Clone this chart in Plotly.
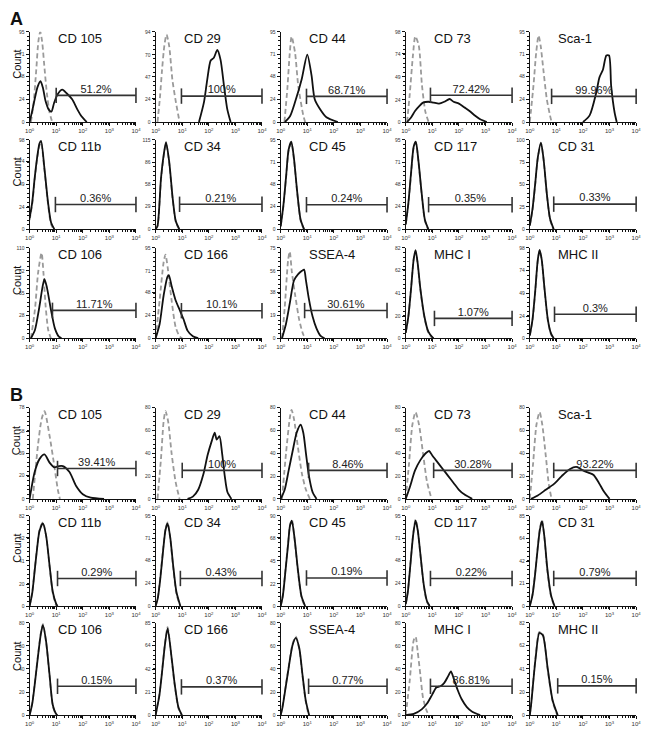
import numpy as np
import plotly.graph_objects as go

# ---------------- data (x values in decades of fluorescence, y in counts) ----------------
markers = ["CD 105", "CD 29", "CD 44", "CD 73", "Sca-1",
           "CD 11b", "CD 34", "CD 45", "CD 117", "CD 31",
           "CD 106", "CD 166", "SSEA-4", "MHC I", "MHC II"]

pct_A = ["51.2%", "100%", "68.71%", "72.42%", "99.96%",
         "0.36%", "0.21%", "0.24%", "0.35%", "0.33%",
         "11.71%", "10.1%", "30.61%", "1.07%", "0.3%"]
pct_B = ["39.41%", "100%", "8.46%", "30.28%", "93.22%",
         "0.29%", "0.43%", "0.19%", "0.22%", "0.79%",
         "0.15%", "0.37%", "0.77%", "86.81%", "0.15%"]

ymax_A = [95, 94, 95, 98, 95, 98, 115, 95, 95, 100, 110, 95, 75, 82, 98]
ymax_B = [78, 80, 80, 80, 80, 82, 95, 90, 95, 85, 80, 85, 80, 80, 82]

gate_A = [1.0, 0.97, 0.97, 0.93, 0.82, 0.97, 0.9, 0.97, 0.86, 0.9, 0.86, 0.97, 0.9, 1.08, 0.93]
gate_B = [1.05, 1.0, 1.05, 1.05, 0.9, 1.05, 0.93, 0.97, 0.93, 0.9, 1.05, 0.97, 1.05, 0.93, 1.05]
level_A = [28, 27, 27, 29, 27, 27, 32, 26, 26, 28, 34, 29, 23, 18, 26]
level_B = [26, 25, 25, 25, 25, 25, 29, 28, 29, 26, 25, 26, 25, 25, 26]

# isotype control (grey dashed) - panel A
iso_x_A = [
    [0.05, 0.15, 0.25, 0.33, 0.4, 0.47, 0.55, 0.65, 0.75, 0.85],
    [0.07, 0.16, 0.24, 0.33, 0.41, 0.51, 0.63, 0.76, 0.9],
    [0.14, 0.25, 0.34, 0.41, 0.54, 0.66, 0.85, 0.92],
    [0.05, 0.15, 0.27, 0.36, 0.49, 0.61, 0.74, 0.86],
    [0.0, 0.14, 0.24, 0.33, 0.41, 0.51, 0.64, 0.76, 0.82],
    [0.0, 0.1, 0.19, 0.28, 0.37, 0.43, 0.56, 0.69, 0.8, 0.9],
    [0.0, 0.07, 0.2, 0.3, 0.39, 0.51, 0.64, 0.76, 0.88],
    [0.0, 0.1, 0.2, 0.3, 0.4, 0.5, 0.62, 0.75, 0.87],
    [0.0, 0.1, 0.2, 0.3, 0.38, 0.48, 0.6, 0.72, 0.84],
    [0.0, 0.1, 0.2, 0.3, 0.42, 0.52, 0.64, 0.76, 0.88],
    [0.05, 0.2, 0.32, 0.45, 0.52, 0.6, 0.7, 0.8],
    [0.0, 0.15, 0.3, 0.37, 0.45, 0.6, 0.75, 0.9, 1.0],
    [0.05, 0.15, 0.28, 0.34, 0.42, 0.55, 0.7, 0.85, 0.95],
    [0.0, 0.1, 0.2, 0.3, 0.37, 0.45, 0.55, 0.7, 0.85, 1.0],
    [0.0, 0.1, 0.2, 0.3, 0.37, 0.45, 0.55, 0.68, 0.8, 0.9],
]
iso_y_A = [
    [0, 20, 55, 85, 95, 85, 60, 30, 10, 0],
    [0, 25, 54, 80, 91, 79, 44, 21, 0],
    [0, 35, 72, 90, 73, 38, 7, 0],
    [0, 30, 72, 93, 83, 40, 11, 0],
    [0, 39, 73, 91, 80, 55, 24, 7, 0],
    [10, 28, 54, 76, 92, 95, 64, 28, 6, 0],
    [0, 4, 63, 93, 110, 85, 38, 9, 0],
    [3, 24, 54, 84, 92, 74, 39, 9, 0],
    [5, 27, 58, 87, 92, 71, 37, 9, 0],
    [4, 21, 49, 79, 96, 77, 39, 11, 0],
    [0, 35, 80, 104, 80, 40, 10, 0],
    [0, 40, 80, 88, 75, 40, 12, 2, 0],
    [0, 25, 65, 72, 55, 35, 15, 3, 0],
    [5, 20, 45, 72, 79, 67, 44, 19, 5, 0],
    [3, 19, 49, 84, 95, 84, 54, 19, 4, 0],
]
# sample (black solid) - panel A
smp_x_A = [
    [0.0, 0.1, 0.19, 0.3, 0.41, 0.5, 0.6, 0.72, 0.82, 0.92, 1.05, 1.23, 1.4, 1.6, 1.8, 1.95, 2.15],
    [1.63, 1.82, 1.94, 2.07, 2.19, 2.32, 2.44, 2.57, 2.69, 2.82],
    [0.16, 0.35, 0.54, 0.79, 1.0, 1.16, 1.28, 1.47, 1.72, 2.15],
    [0.05, 0.2, 0.35, 0.5, 0.65, 0.85, 1.05, 1.25, 1.45, 1.65, 1.8, 2.0, 2.2, 2.4, 2.6, 2.8, 3.05],
    [2.0, 2.25, 2.5, 2.62, 2.75, 2.88, 2.98, 3.06, 3.19, 3.27],
    [0.0, 0.1, 0.19, 0.28, 0.37, 0.43, 0.56, 0.69, 0.81, 0.93],
    [0.0, 0.07, 0.2, 0.3, 0.39, 0.51, 0.64, 0.76, 0.89],
    [0.0, 0.1, 0.2, 0.3, 0.4, 0.5, 0.62, 0.75, 0.88],
    [0.0, 0.1, 0.2, 0.3, 0.38, 0.48, 0.6, 0.72, 0.85],
    [0.0, 0.1, 0.2, 0.3, 0.42, 0.52, 0.64, 0.76, 0.9],
    [0.05, 0.2, 0.35, 0.5, 0.56, 0.65, 0.8, 0.95, 1.1, 1.2],
    [0.0, 0.15, 0.3, 0.45, 0.5, 0.6, 0.75, 0.9, 1.05, 1.2, 1.4, 1.6],
    [0.05, 0.2, 0.35, 0.5, 0.65, 0.8, 0.88, 0.95, 1.05, 1.2, 1.35, 1.5, 1.65],
    [0.0, 0.1, 0.2, 0.3, 0.37, 0.45, 0.55, 0.7, 0.85, 1.0, 1.05],
    [0.0, 0.1, 0.2, 0.3, 0.37, 0.45, 0.55, 0.68, 0.8, 0.9],
]
smp_y_A = [
    [0, 12, 24, 37, 43, 36, 22, 13, 11, 20, 29, 34, 30, 24, 13, 6, 0],
    [0, 21, 44, 64, 67, 75, 65, 38, 14, 0],
    [0, 6, 21, 45, 71, 49, 24, 14, 5, 0],
    [0, 5, 12, 17, 21, 22, 21, 20, 22, 25, 22, 20, 16, 12, 7, 3, 0],
    [0, 7, 31, 47, 55, 70, 70, 38, 10, 0],
    [12, 30, 56, 78, 94, 97, 66, 30, 7, 0],
    [0, 4, 65, 95, 112, 87, 40, 10, 0],
    [3, 25, 55, 85, 93, 75, 40, 10, 0],
    [5, 28, 60, 88, 93, 72, 38, 10, 0],
    [4, 22, 50, 80, 97, 78, 40, 12, 0],
    [0, 10, 35, 65, 72, 62, 35, 12, 2, 0],
    [0, 15, 45, 65, 66, 55, 40, 30, 20, 8, 2, 0],
    [0, 12, 30, 48, 53, 56, 57, 48, 34, 18, 8, 2, 0],
    [5, 20, 45, 72, 80, 68, 45, 20, 6, 1, 0],
    [3, 20, 50, 85, 96, 85, 55, 20, 5, 0],
]

# isotype control (grey dashed) - panel B
iso_x_B = [
    [0.12, 0.31, 0.45, 0.56, 0.75, 0.93, 1.06, 1.14],
    [0.07, 0.2, 0.3, 0.37, 0.47, 0.6, 0.75, 0.9],
    [0.05, 0.2, 0.35, 0.41, 0.5, 0.65, 0.8, 0.95, 1.1],
    [0.0, 0.12, 0.25, 0.37, 0.5, 0.65, 0.8, 0.97],
    [0.0, 0.12, 0.25, 0.37, 0.47, 0.6, 0.72, 0.82],
    [0.0, 0.1, 0.19, 0.28, 0.37, 0.5, 0.62, 0.75, 0.87, 1.0],
    [0.0, 0.08, 0.18, 0.28, 0.37, 0.45, 0.55, 0.65, 0.78, 0.92],
    [0.0, 0.08, 0.18, 0.28, 0.35, 0.42, 0.52, 0.64, 0.78, 0.9],
    [0.0, 0.08, 0.18, 0.28, 0.37, 0.45, 0.55, 0.68, 0.8, 0.9],
    [0.0, 0.1, 0.2, 0.3, 0.38, 0.46, 0.55, 0.66, 0.8, 0.92],
    [0.0, 0.1, 0.19, 0.31, 0.42, 0.5, 0.62, 0.75, 0.87, 1.0],
    [0.0, 0.04, 0.14, 0.23, 0.35, 0.45, 0.6, 0.72, 0.86, 0.98],
    [0.0, 0.07, 0.26, 0.45, 0.57, 0.7, 0.82, 0.94, 1.05],
    [0.0, 0.15, 0.3, 0.37, 0.45, 0.55, 0.65, 0.8, 0.9],
    [0.0, 0.04, 0.22, 0.36, 0.49, 0.67, 0.86, 1.03],
]
iso_y_B = [
    [0, 45, 68, 75, 54, 28, 8, 0],
    [0, 35, 68, 77, 68, 40, 15, 0],
    [0, 40, 72, 78, 70, 45, 22, 8, 0],
    [0, 30, 65, 76, 65, 40, 15, 0],
    [0, 30, 65, 76, 65, 38, 12, 0],
    [0, 13, 33, 53, 69, 76, 64, 36, 12, 0],
    [0, 9, 32, 60, 81, 88, 71, 43, 13, 0],
    [0, 11, 37, 63, 81, 86, 67, 36, 9, 0],
    [2, 16, 46, 76, 91, 81, 54, 21, 4, 0],
    [0, 11, 31, 56, 73, 81, 64, 33, 9, 0],
    [0, 11, 27, 51, 71, 79, 63, 34, 8, 0],
    [0, 6, 19, 38, 66, 81, 52, 27, 6, 0],
    [0, 8, 36, 62, 68, 57, 34, 12, 0],
    [0, 30, 65, 68, 55, 35, 15, 3, 0],
    [0, 8, 52, 74, 72, 41, 12, 0],
]
# sample (black solid) - panel B
smp_x_B = [
    [0.0, 0.19, 0.37, 0.56, 0.75, 0.93, 1.1, 1.25, 1.5, 1.75, 2.0, 2.3, 2.8],
    [1.2, 1.4, 1.6, 1.8, 1.95, 2.1, 2.22, 2.3, 2.4, 2.5, 2.6, 2.7, 2.85],
    [0.0, 0.15, 0.3, 0.45, 0.6, 0.75, 0.85, 0.95, 1.05, 1.2, 1.35],
    [0.0, 0.15, 0.35, 0.55, 0.75, 0.88, 1.0, 1.2, 1.4, 1.6, 1.8, 2.0, 2.2, 2.5],
    [0.05, 0.3, 0.6, 0.9, 1.2, 1.5, 1.75, 2.0, 2.2, 2.4, 2.6, 2.8, 3.0],
    [0.0, 0.1, 0.19, 0.28, 0.37, 0.5, 0.62, 0.75, 0.87, 1.0, 1.05],
    [0.0, 0.08, 0.18, 0.28, 0.37, 0.45, 0.55, 0.65, 0.78, 0.93],
    [0.0, 0.08, 0.18, 0.28, 0.35, 0.42, 0.52, 0.64, 0.78, 0.92],
    [0.0, 0.08, 0.18, 0.28, 0.37, 0.45, 0.55, 0.68, 0.8, 0.9],
    [0.0, 0.1, 0.2, 0.3, 0.38, 0.46, 0.55, 0.66, 0.8, 0.93],
    [0.0, 0.1, 0.19, 0.31, 0.42, 0.5, 0.62, 0.75, 0.87, 1.0, 1.05],
    [0.0, 0.04, 0.14, 0.23, 0.35, 0.45, 0.6, 0.72, 0.86, 0.99],
    [0.0, 0.07, 0.26, 0.45, 0.57, 0.7, 0.82, 0.94, 1.07],
    [0.0, 0.3, 0.6, 0.8, 1.0, 1.15, 1.3, 1.45, 1.6, 1.7, 1.8, 1.95, 2.1, 2.3, 2.5, 2.8],
    [0.0, 0.04, 0.22, 0.36, 0.49, 0.67, 0.86, 1.05],
]
smp_y_B = [
    [0, 23, 34, 38, 31, 27, 28, 28, 23, 11, 4, 1, 0],
    [0, 2, 8, 22, 38, 50, 58, 52, 55, 40, 20, 6, 0],
    [0, 8, 25, 42, 58, 65, 58, 40, 22, 6, 0],
    [0, 10, 25, 34, 40, 42, 38, 32, 26, 20, 14, 8, 4, 0],
    [0, 3, 8, 13, 20, 26, 28, 25, 23, 21, 14, 6, 0],
    [0, 12, 32, 52, 68, 75, 64, 37, 13, 2, 0],
    [0, 8, 30, 58, 80, 87, 72, 45, 15, 0],
    [0, 10, 35, 62, 80, 85, 68, 38, 10, 0],
    [2, 15, 45, 75, 90, 80, 55, 22, 5, 0],
    [0, 10, 30, 55, 72, 80, 65, 35, 10, 0],
    [0, 10, 26, 50, 70, 78, 64, 35, 9, 1, 0],
    [0, 5, 18, 37, 65, 80, 53, 28, 7, 0],
    [0, 7, 35, 61, 67, 58, 35, 13, 0],
    [0, 1, 5, 10, 18, 24, 25, 28, 34, 38, 32, 22, 14, 7, 3, 0],
    [0, 7, 51, 73, 71, 42, 13, 0],
]

# ---------------- layout geometry (pixels) ----------------
W, H = 650, 732
col_left = [25, 153, 280, 407, 533]
col_w = 108
rows_A = [(29, 120), (138, 228), (247, 338)]
rows_B = [(408, 500), (517, 608), (625, 718)]

FONT = "Liberation Sans, Arial, Helvetica, sans-serif"
BLACK = "#111111"
GREY = "#9a9a9a"

decade_vals = [1, 10, 100, 1000, 10000]
decade_text = ["10<sup>0</sup>", "10<sup>1</sup>", "10<sup>2</sup>", "10<sup>3</sup>", "10<sup>4</sup>"]
minor_vals = [m * 10 ** k for k in range(4) for m in range(2, 10)]

fig = go.Figure()
layout = dict(width=W, height=H, margin=dict(l=0, r=0, t=0, b=0),
              paper_bgcolor="white", plot_bgcolor="white", showlegend=False,
              font=dict(family=FONT, color=BLACK))
annotations = []

panels = [
    ("A", rows_A, pct_A, ymax_A, gate_A, level_A, iso_x_A, iso_y_A, smp_x_A, smp_y_A),
    ("B", rows_B, pct_B, ymax_B, gate_B, level_B, iso_x_B, iso_y_B, smp_x_B, smp_y_B),
]

n = 0
for (plabel, rows, pcts, ymaxs, gates, levels, ix, iy, sx, sy) in panels:
    for i in range(15):
        n += 1
        r, c = divmod(i, 5)
        top, bot = rows[r]
        xa = "x" if n == 1 else f"x{n}"
        ya = "y" if n == 1 else f"y{n}"
        xkey = "xaxis" if n == 1 else f"xaxis{n}"
        ykey = "yaxis" if n == 1 else f"yaxis{n}"
        ymax = ymaxs[i]

        # isotype (grey dashed)
        fig.add_trace(go.Scatter(
            x=10 ** np.array(ix[i]), y=iy[i], xaxis=xa, yaxis=ya, mode="lines",
            line=dict(color=GREY, width=1.8, dash="5px,3px", shape="spline", smoothing=0.7),
            hoverinfo="skip"))
        # sample (black)
        fig.add_trace(go.Scatter(
            x=10 ** np.array(sx[i]), y=sy[i], xaxis=xa, yaxis=ya, mode="lines",
            line=dict(color=BLACK, width=1.8, shape="spline", smoothing=0.7),
            hoverinfo="skip"))
        # gate bar
        g0 = 10 ** gates[i]
        fig.add_trace(go.Scatter(
            x=[g0, 10 ** 4], y=[levels[i], levels[i]], xaxis=xa, yaxis=ya,
            mode="lines+markers", cliponaxis=False,
            line=dict(color="#333333", width=1.6),
            marker=dict(symbol="line-ns", size=11, line=dict(color="#333333", width=1.6)),
            hoverinfo="skip"))
        # percentage label
        fig.add_trace(go.Scatter(
            x=[10 ** ((gates[i] + 4) / 2)], y=[levels[i]], xaxis=xa, yaxis=ya,
            mode="text", text=[pcts[i]], textposition="top center",
            textfont=dict(size=11, color="#222222", family=FONT), cliponaxis=False,
            hoverinfo="skip"))

        q = [round(ymax * k / 4) for k in range(5)]
        layout[xkey] = dict(
            type="log", range=[0, 4], anchor=ya,
            domain=[col_left[c] / W, (col_left[c] + col_w) / W],
            showline=True, linecolor=BLACK, linewidth=1, mirror=False,
            ticks="outside", ticklen=3, tickwidth=1, tickcolor=BLACK,
            tickmode="array", tickvals=decade_vals, ticktext=decade_text,
            tickfont=dict(size=6, color="#333333"),
            minor=dict(ticks="outside", ticklen=2, tickwidth=0.8, tickcolor=BLACK,
                       tickmode="array", tickvals=minor_vals),
            showgrid=False, zeroline=False, fixedrange=True)
        layout[ykey] = dict(
            range=[0, ymax], anchor=xa,
            domain=[1 - bot / H, 1 - top / H],
            showline=True, linecolor=BLACK, linewidth=1.2,
            ticks="outside", ticklen=3, tickwidth=1, tickcolor=BLACK,
            tickmode="array", tickvals=q, ticktext=[str(v) for v in q],
            tickfont=dict(size=5, color="#333333"),
            minor=dict(ticks="outside", ticklen=2, tickwidth=0.8, tickcolor=BLACK,
                       tickmode="linear", tick0=0, dtick=ymax / 20),
            showgrid=False, zeroline=False, fixedrange=True)

        # marker name
        annotations.append(dict(
            text=markers[i], xref=f"{xa} domain", yref=f"{ya} domain",
            x=0.25, y=1, xanchor="left", yanchor="middle", yshift=-7,
            showarrow=False, font=dict(size=13, family=FONT, color=BLACK)))

        if c == 0:
            annotations.append(dict(
                text="Count", xref="paper", yref="paper",
                x=12 / W, y=1 - ((top + bot) / 2 - 13) / H,
                xanchor="center", yanchor="middle", textangle=-90,
                showarrow=False, font=dict(size=11, family=FONT, color=BLACK)))

    ptop = 16 if plabel == "A" else 395
    annotations.append(dict(
        text=f"<b>{plabel}</b>", xref="paper", yref="paper",
        x=3 / W, y=1 - ptop / H, xanchor="left", yanchor="middle",
        showarrow=False, font=dict(size=18, family=FONT, color=BLACK)))

layout["annotations"] = annotations
fig.update_layout(**layout)
fig.write_html("out.html", config={"displayModeBar": False},
               post_script="document.body.style.margin='0';document.body.style.overflow='hidden';")
